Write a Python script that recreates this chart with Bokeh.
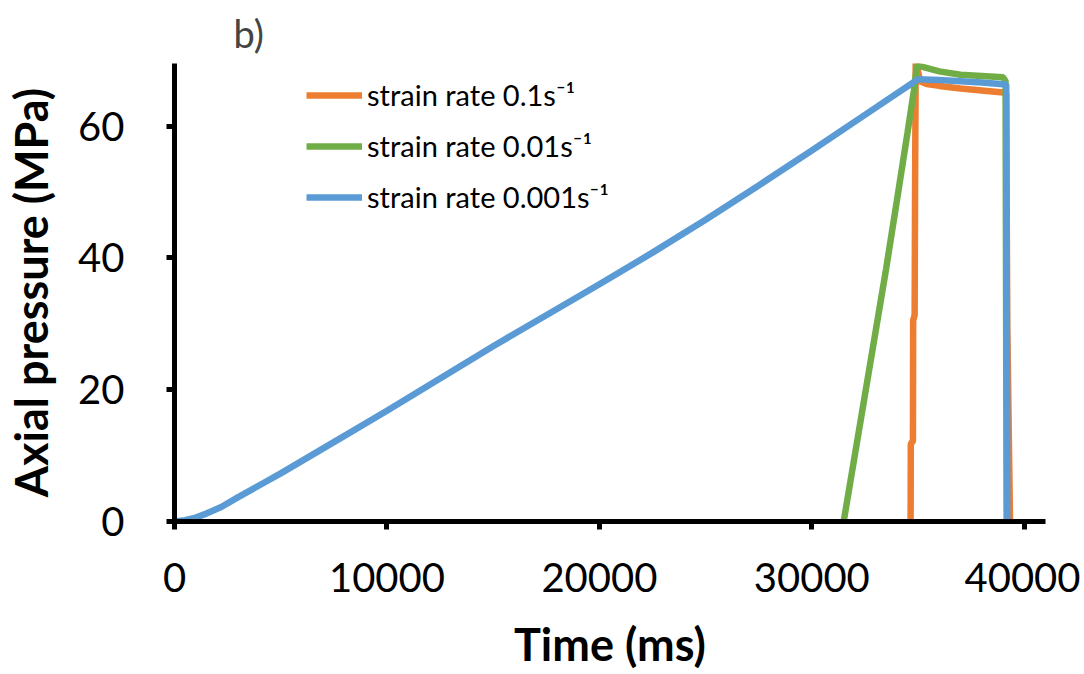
from bokeh.plotting import figure
from bokeh.embed import file_html
from bokeh.resources import INLINE
from bokeh.models import Range1d, FixedTicker

# ---- data ----
orange_t = [34650, 34660, 34760, 34770, 34840, 34860, 34890, 34950, 35100, 35400, 36000, 37000, 38000, 39000, 39150, 39200, 39330]
orange_p = [0, 11.8, 12.2, 30.5, 31.3, 50.0, 69.7, 69.0, 66.8, 66.4, 66.1, 65.7, 65.4, 65.1, 65.0, 30.0, 0]

green_t = [31500, 32000, 32500, 33000, 33500, 34000, 34500, 34800, 34950, 35300, 36000, 37000, 38000, 39000, 39120, 39170]
green_p = [0, 9.6, 19.2, 28.8, 38.4, 48.6, 58.9, 65.3, 69.2, 68.9, 68.3, 67.8, 67.6, 67.4, 66.8, 0]

blue_t = [0, 500, 1000, 1500, 2200, 3000, 4000, 5000, 6000, 8000, 10000, 12500, 15000, 17500, 20000, 22500, 25000, 27500, 30000, 32500, 35000, 36000, 37000, 38000, 39150, 39190, 39200]
blue_p = [0, 0.2, 0.6, 1.2, 2.2, 3.7, 5.5, 7.3, 9.2, 13.0, 16.8, 21.7, 26.6, 31.3, 36.0, 40.8, 45.8, 51.0, 56.3, 61.7, 67.1, 67.0, 66.8, 66.6, 66.3, 20.0, 0]

series_labels = ["strain rate 0.1s\u207b\u00b9", "strain rate 0.01s\u207b\u00b9", "strain rate 0.001s\u207b\u00b9"]
series_colors = ["#ED7D31", "#70AD47", "#5B9BD5"]

x_ticks = [0, 10000, 20000, 30000, 40000]
y_ticks = [0, 20, 40, 60]

FONT = "Lato"

p = figure(width=1080, height=674, output_backend="svg", toolbar_location=None,
           x_range=Range1d(0, 41000), y_range=Range1d(0, 69.5),
           min_border_left=174, min_border_right=35, min_border_top=59, min_border_bottom=153)

p.title.text = "b)"
p.title.text_font = FONT
p.title.text_font_size = "38px"
p.title.text_font_style = "normal"
p.title.align = "left"
p.title.offset = 59
p.title.standoff = 15

lw = 6.5
p.line(orange_t, orange_p, color=series_colors[0], line_width=lw, legend_label=series_labels[0])
p.line(green_t, green_p, color=series_colors[1], line_width=lw, legend_label=series_labels[1])
p.line(blue_t, blue_p, color=series_colors[2], line_width=lw, legend_label=series_labels[2])

p.xgrid.visible = False
p.ygrid.visible = False
p.outline_line_color = None
p.background_fill_color = "white"
p.border_fill_color = "white"

for ax in (p.xaxis[0], p.yaxis[0]):
    ax.axis_line_color = "black"
    ax.axis_line_width = 5
    ax.major_tick_line_color = "black"
    ax.major_tick_line_width = 5
    ax.major_tick_in = 0
    ax.major_tick_out = 8
    ax.minor_tick_line_color = None
    ax.major_label_text_font = FONT
    ax.major_label_text_font_size = "40px"
    ax.major_label_text_color = "black"
    ax.axis_label_text_font = FONT
    ax.axis_label_text_font_size = "45px"
    ax.axis_label_text_font_style = "bold"
    ax.axis_label_text_color = "black"

p.xaxis[0].ticker = FixedTicker(ticks=x_ticks)
p.yaxis[0].ticker = FixedTicker(ticks=y_ticks)
p.xaxis[0].major_label_standoff = 33
p.yaxis[0].major_label_standoff = 42
p.xaxis[0].axis_label = "Time (ms)"
p.yaxis[0].axis_label = "Axial pressure (MPa)"
p.xaxis[0].axis_label_standoff = 22
p.yaxis[0].axis_label_standoff = 17
p.yaxis[0].major_label_orientation = "horizontal"

lg = p.legend[0]
lg.location = (132, 307)
lg.background_fill_alpha = 0
lg.border_line_alpha = 0
lg.padding = 0
lg.margin = 0
lg.spacing = 16
lg.glyph_width = 56
lg.glyph_height = 34
lg.label_height = 34
lg.label_standoff = 5
lg.label_text_font = FONT
lg.label_text_font_size = "29px"
lg.label_text_color = "black"

open("out.html", "w").write(file_html(p, INLINE))
